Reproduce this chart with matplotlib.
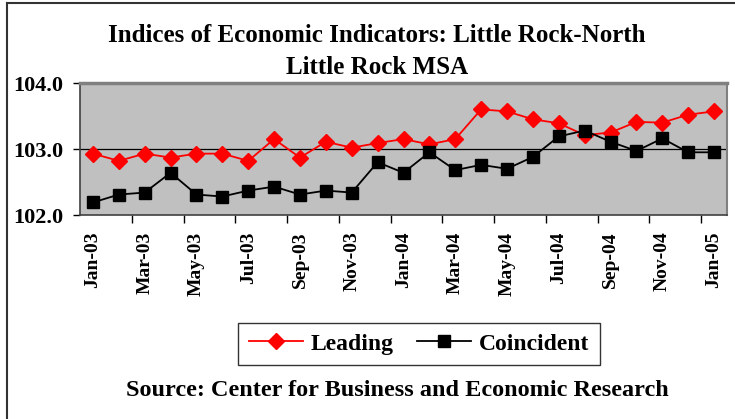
import matplotlib
matplotlib.use("Agg")
import matplotlib.pyplot as plt
from matplotlib.lines import Line2D
import numpy as np

# monthly index values, Jan-03 .. Jan-05
months = ["Jan-03", "Feb-03", "Mar-03", "Apr-03", "May-03", "Jun-03", "Jul-03",
          "Aug-03", "Sep-03", "Oct-03", "Nov-03", "Dec-03", "Jan-04", "Feb-04",
          "Mar-04", "Apr-04", "May-04", "Jun-04", "Jul-04", "Aug-04", "Sep-04",
          "Oct-04", "Nov-04", "Dec-04", "Jan-05"]
leading = [102.93, 102.82, 102.93, 102.87, 102.93, 102.93, 102.82, 103.15,
           102.87, 103.11, 103.02, 103.09, 103.15, 103.07, 103.15, 103.60,
           103.57, 103.45, 103.39, 103.21, 103.25, 103.41, 103.40, 103.52,
           103.57]
coincident = [102.19, 102.31, 102.34, 102.64, 102.31, 102.28, 102.37, 102.43,
              102.31, 102.37, 102.34, 102.80, 102.64, 102.95, 102.68, 102.76,
              102.70, 102.88, 103.19, 103.28, 103.11, 102.97, 103.16, 102.95,
              102.95]
yticks = [102.0, 103.0, 104.0]

plt.rcParams['font.family'] = ['Liberation Serif', 'DejaVu Serif']
plt.rcParams['font.weight'] = 'bold'

fig = plt.figure(figsize=(7.35, 4.19), dpi=100)
ax = fig.add_axes([80 / 735, 1 - 215 / 419, 647 / 735, 132 / 419])

x = np.arange(len(months))
ax.plot(x, leading, color='red', marker='D', markersize=8, linewidth=1.3, label='Leading')
ax.plot(x, coincident, color='black', marker='s', markersize=8, linewidth=1.3, label='Coincident')

ax.set_facecolor('#C0C0C0')
ax.set_xlim(-0.5, len(months) - 0.5)
ax.set_ylim(102.0, 104.0)
ax.axhline(103.0, color='black', linewidth=0.9, zorder=1)

ax.set_yticks(yticks)
ax.set_yticklabels(["%.1f" % v for v in yticks], fontsize=16, fontweight='bold')
ax.tick_params(axis='y', length=5, direction='out', width=1, pad=7)

ax.set_xticks(x[::2])
ax.set_xticklabels(months[::2], rotation=90, fontsize=14, fontweight='bold')
ax.set_xticks(np.arange(-0.5, len(months), 2)[1:], minor=True)
ax.tick_params(axis='x', which='major', length=0, pad=12)
ax.tick_params(axis='x', which='minor', length=6, direction='out', width=1)

ax.spines['top'].set_color('#808080')
ax.spines['top'].set_linewidth(2.5)
ax.spines['right'].set_color('#808080')
ax.spines['right'].set_linewidth(1.5)
ax.spines['left'].set_color('#404040')
ax.spines['left'].set_linewidth(1.2)
ax.spines['bottom'].set_color('#404040')
ax.spines['bottom'].set_linewidth(1.2)

fig.text(377 / 735, 1 - 36 / 419, "Indices of Economic Indicators: Little Rock-North",
         ha='center', va='center', fontsize=18, fontweight='bold')
fig.text(377 / 735, 1 - 67 / 419, "Little Rock MSA",
         ha='center', va='center', fontsize=18, fontweight='bold')

leg = fig.legend(loc='center', bbox_to_anchor=(419 / 735, 1 - 344 / 419), ncol=2,
                 fontsize=17, frameon=True, fancybox=False, handlelength=2.3,
                 handletextpad=0.3, columnspacing=1.0, borderpad=0.45)
leg.get_frame().set_edgecolor('black')
leg.get_frame().set_linewidth(1)
for t in leg.get_texts():
    t.set_fontweight('bold')

fig.text(397 / 735, 1 - 390 / 419, "Source: Center for Business and Economic Research",
         ha='center', va='center', fontsize=17.5, fontweight='bold')

# frame lines on the left and top edges only
fig.add_artist(Line2D([6.5 / 735, 6.5 / 735], [0, 1 - 3.5 / 419], transform=fig.transFigure,
                      color='#333333', linewidth=1.5))
fig.add_artist(Line2D([6.5 / 735, 1], [1 - 3.5 / 419, 1 - 3.5 / 419], transform=fig.transFigure,
                      color='#333333', linewidth=1.5))

fig.savefig("out.png", dpi=100)
